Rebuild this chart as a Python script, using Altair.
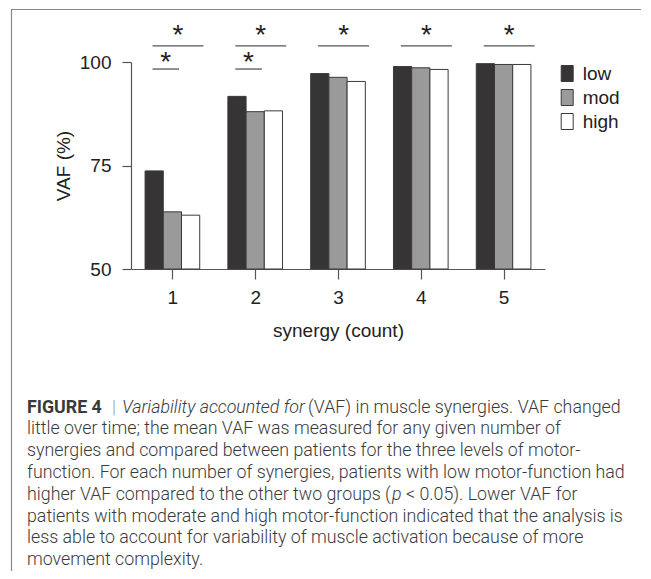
import altair as alt
import pandas as pd

# ---- data ----
synergy = [1, 2, 3, 4, 5]
levels = ["low", "mod", "high"]
vaf_low = [73.7, 91.7, 97.2, 98.9, 99.6]
vaf_mod = [63.8, 88.0, 96.3, 98.6, 99.4]
vaf_high = [63.0, 88.2, 95.3, 98.2, 99.4]
level_colors = ["#363434", "#9a9a9a", "#ffffff"]

# significance comparisons: low vs all (top) and low vs mod (lower)
sig_synergy = [1, 1, 2, 2, 3, 4, 5]
sig_versus = ["all", "mod", "all", "mod", "all", "all", "all"]
sig_label = ["*", "*", "*", "*", "*", "*", "*"]

caption_lines = [
    "",
    "little over time; the mean VAF was measured for any given number of",
    "synergies and compared between patients for the three levels of motor-",
    "function. For each number of synergies, patients with low motor-function had",
    "",
    "patients with moderate and high motor-function indicated that the analysis is",
    "less able to account for variability of muscle activation because of more",
    "movement complexity.",
]

# ---- layout constants ----
W, H = 414, 207
BW = 0.22  # bar width in x units
FONT = "Liberation Sans"
CAP_FONT = "Roboto"
CAP_SIZE = 17.8
OX, OY = 131, 62  # plot origin on page

rows = []
for vals, lvl, i in zip([vaf_low, vaf_mod, vaf_high], levels, range(3)):
    for s, v in zip(synergy, vals):
        x0 = s + (i - 1) * BW - BW / 2
        rows.append({"synergy": s, "level": lvl, "vaf": v, "x0": x0, "x1": x0 + BW})
bars_df = pd.DataFrame(rows)

tier_rule = {"all": 103.9, "mod": 98.3}
tier_star = {"all": 107.4, "mod": 101.0}
tier_end = {"all": 0.375, "mod": 0.08}
sig_rows = []
for s, vs, lab in zip(sig_synergy, sig_versus, sig_label):
    a = s - 0.24
    b = s + tier_end[vs]
    sig_rows.append({"a": a, "b": b, "y": tier_rule[vs], "ys": tier_star[vs],
                     "xm": (a + b) / 2, "label": lab})
sig_df = pd.DataFrame(sig_rows)

xscale = alt.Scale(domain=[0.5, 5.5], nice=False, zero=False)
yscale = alt.Scale(domain=[50, 100], nice=False, zero=False)

bars = alt.Chart(bars_df).mark_bar(stroke="#3a3a3a", strokeWidth=1).encode(
    x=alt.X("x0:Q", scale=xscale,
            axis=alt.Axis(values=synergy, title="synergy (count)", grid=False,
                          tickSize=10, labelPadding=9, titlePadding=14,
                          format="d")),
    x2="x1:Q",
    y=alt.Y("vaf:Q", scale=yscale,
            axis=alt.Axis(values=[50, 75, 100], title="VAF (%)", grid=False,
                          tickSize=9, labelPadding=11, titlePadding=6)),
    y2=alt.datum(50),
    fill=alt.Fill("level:N", scale=alt.Scale(domain=levels, range=level_colors),
                  legend=alt.Legend(title=None, orient="none", legendX=426.7,
                                    legendY=2, symbolType="M-0.75,-1H0.75V1H-0.75Z",
                                    symbolSize=256, symbolStrokeColor="#3a3a3a",
                                    symbolStrokeWidth=1, labelFontSize=19,
                                    labelFont=FONT, labelColor="#222222",
                                    rowPadding=3, labelOffset=6, padding=0)),
)

rules = alt.Chart(sig_df).mark_rule(color="#555555", strokeWidth=1.3).encode(
    x=alt.X("a:Q", scale=xscale), x2="b:Q", y=alt.Y("y:Q", scale=yscale)
)
stars = alt.Chart(sig_df).mark_text(font=FONT, fontSize=28, color="#222222",
                                    baseline="middle", dy=5).encode(
    x=alt.X("xm:Q", scale=xscale), y=alt.Y("ys:Q", scale=yscale), text="label:N"
)

# frame lines of the figure box
frame_top = alt.Chart(pd.DataFrame({"k": [0]})).mark_rule(color="#888888", strokeWidth=1.2).encode(
    x=alt.value(11 - OX), x2=alt.value(651 - OX), y=alt.value(9.5 - OY))
frame_left = alt.Chart(pd.DataFrame({"k": [0]})).mark_rule(color="#888888", strokeWidth=1.2).encode(
    x=alt.value(11.5 - OX), y=alt.value(9.5 - OY), y2=alt.value(579 - OY))

# caption
LINE0 = 407.5 - OY
LS = 21.8
cap_x = 27 - OX
cap_rows = [{"t": t, "px": cap_x, "py": LINE0 + i * LS} for i, t in enumerate(caption_lines) if t]
normal_rows = cap_rows + [
    {"t": "(VAF) in muscle synergies. VAF changed", "px": 308 - OX, "py": LINE0},
    {"t": "higher VAF compared to the other two groups (", "px": cap_x, "py": LINE0 + 4 * LS},
    {"t": "< 0.05). Lower VAF for", "px": 406 - OX, "py": LINE0 + 4 * LS},
]
italic_rows = [
    {"t": "Variability accounted for", "px": 122 - OX, "py": LINE0},
    {"t": "p", "px": 392 - OX, "py": LINE0 + 4 * LS},
]
bold_rows = [{"t": "FIGURE 4", "px": cap_x, "py": LINE0}]
bar_rows = [{"t": "|", "px": 112 - OX, "py": LINE0}]

def cap_layer(data, color="#3a3a3a", **kw):
    return alt.Chart(pd.DataFrame(data)).mark_text(
        align="left", baseline="middle", font=CAP_FONT, fontSize=CAP_SIZE,
        color=color, **kw).encode(
        x=alt.X("px:Q", scale=None), y=alt.Y("py:Q", scale=None), text="t:N")

cap_normal = cap_layer(normal_rows, fontWeight=300)
cap_italic = cap_layer(italic_rows, fontWeight=300, fontStyle="italic")
cap_bold = cap_layer(bold_rows, fontWeight="bold")
cap_bar = cap_layer(bar_rows, color="#999999", fontWeight=300)

chart = alt.layer(
    frame_top, frame_left, bars, rules, stars,
    cap_normal, cap_italic, cap_bold, cap_bar
).properties(
    width=W, height=H,
    autosize=alt.AutoSizeParams(type="none"),
    padding={"left": OX - 8, "top": OY - 8, "right": 96, "bottom": 302},
).configure_view(stroke=None).configure_axis(
    labelFont=FONT, titleFont=FONT, labelFontSize=19, titleFontSize=19,
    labelColor="#222222", titleColor="#222222", titleFontWeight="normal",
    domainColor="#555555", tickColor="#555555", domainWidth=1.2, tickWidth=1.2,
)

chart.save("out.html", embed_options={"renderer": "svg", "actions": False})
